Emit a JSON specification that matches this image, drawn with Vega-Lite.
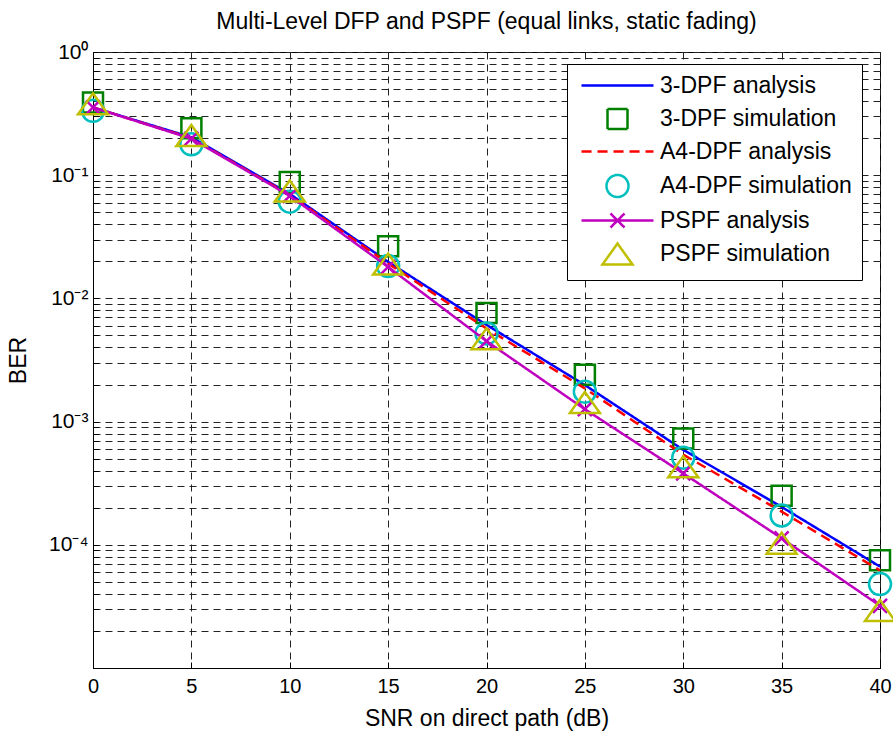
{
  "$schema": "https://vega.github.io/schema/vega-lite/v6.json",
  "width": 787,
  "height": 616,
  "autosize": "none",
  "padding": {"left": 93, "top": 52, "right": 13, "bottom": 64},
  "background": "white",
  "config": {
    "font": "Liberation Sans",
    "view": {"stroke": "black", "strokeWidth": 1}
  },
  "title": {
    "text": "Multi-Level DFP and PSPF (equal links, static fading)",
    "font": "Liberation Sans",
    "fontSize": 23,
    "fontWeight": "normal",
    "color": "black",
    "anchor": "middle",
    "offset": 7
  },
  "data": {
    "values": [
      {"snr": 0, "ber": 0.355, "series": "3-DPF analysis"},
      {"snr": 5, "ber": 0.203, "series": "3-DPF analysis"},
      {"snr": 10, "ber": 0.0705, "series": "3-DPF analysis"},
      {"snr": 15, "ber": 0.0198, "series": "3-DPF analysis"},
      {"snr": 20, "ber": 0.0061, "series": "3-DPF analysis"},
      {"snr": 25, "ber": 0.00198, "series": "3-DPF analysis"},
      {"snr": 30, "ber": 0.00059, "series": "3-DPF analysis"},
      {"snr": 35, "ber": 0.000203, "series": "3-DPF analysis"},
      {"snr": 40, "ber": 0.0000665, "series": "3-DPF analysis"},
      {"snr": 0, "ber": 0.39, "series": "3-DPF simulation"},
      {"snr": 5, "ber": 0.24, "series": "3-DPF simulation"},
      {"snr": 10, "ber": 0.088, "series": "3-DPF simulation"},
      {"snr": 15, "ber": 0.0265, "series": "3-DPF simulation"},
      {"snr": 20, "ber": 0.0076, "series": "3-DPF simulation"},
      {"snr": 25, "ber": 0.0024, "series": "3-DPF simulation"},
      {"snr": 30, "ber": 0.00073, "series": "3-DPF simulation"},
      {"snr": 35, "ber": 0.00025, "series": "3-DPF simulation"},
      {"snr": 40, "ber": 0.000075, "series": "3-DPF simulation"},
      {"snr": 0, "ber": 0.355, "series": "A4-DPF analysis"},
      {"snr": 5, "ber": 0.2, "series": "A4-DPF analysis"},
      {"snr": 10, "ber": 0.069, "series": "A4-DPF analysis"},
      {"snr": 15, "ber": 0.0192, "series": "A4-DPF analysis"},
      {"snr": 20, "ber": 0.0057, "series": "A4-DPF analysis"},
      {"snr": 25, "ber": 0.00186, "series": "A4-DPF analysis"},
      {"snr": 30, "ber": 0.00054, "series": "A4-DPF analysis"},
      {"snr": 35, "ber": 0.000186, "series": "A4-DPF analysis"},
      {"snr": 40, "ber": 0.000062, "series": "A4-DPF analysis"},
      {"snr": 0, "ber": 0.333, "series": "A4-DPF simulation"},
      {"snr": 5, "ber": 0.178, "series": "A4-DPF simulation"},
      {"snr": 10, "ber": 0.061, "series": "A4-DPF simulation"},
      {"snr": 15, "ber": 0.0183, "series": "A4-DPF simulation"},
      {"snr": 20, "ber": 0.0052, "series": "A4-DPF simulation"},
      {"snr": 25, "ber": 0.00175, "series": "A4-DPF simulation"},
      {"snr": 30, "ber": 0.00051, "series": "A4-DPF simulation"},
      {"snr": 35, "ber": 0.000173, "series": "A4-DPF simulation"},
      {"snr": 40, "ber": 0.000048, "series": "A4-DPF simulation"},
      {"snr": 0, "ber": 0.355, "series": "PSPF analysis"},
      {"snr": 5, "ber": 0.198, "series": "PSPF analysis"},
      {"snr": 10, "ber": 0.068, "series": "PSPF analysis"},
      {"snr": 15, "ber": 0.018, "series": "PSPF analysis"},
      {"snr": 20, "ber": 0.0045, "series": "PSPF analysis"},
      {"snr": 25, "ber": 0.00126, "series": "PSPF analysis"},
      {"snr": 30, "ber": 0.00038, "series": "PSPF analysis"},
      {"snr": 35, "ber": 0.000113, "series": "PSPF analysis"},
      {"snr": 40, "ber": 0.000032, "series": "PSPF analysis"},
      {"snr": 0, "ber": 0.38, "series": "PSPF simulation"},
      {"snr": 5, "ber": 0.21, "series": "PSPF simulation"},
      {"snr": 10, "ber": 0.0745, "series": "PSPF simulation"},
      {"snr": 15, "ber": 0.019, "series": "PSPF simulation"},
      {"snr": 20, "ber": 0.0047, "series": "PSPF simulation"},
      {"snr": 25, "ber": 0.00143, "series": "PSPF simulation"},
      {"snr": 30, "ber": 0.00043, "series": "PSPF simulation"},
      {"snr": 35, "ber": 0.000103, "series": "PSPF simulation"},
      {"snr": 40, "ber": 0.0000293, "series": "PSPF simulation"}
    ]
  },
  "encoding": {
    "x": {
      "field": "snr",
      "type": "quantitative",
      "scale": {"domain": [0, 40], "nice": false, "zero": false},
      "axis": {
        "values": [0, 5, 10, 15, 20, 25, 30, 35, 40],
        "title": "SNR on direct path (dB)",
        "titleFontSize": 23,
        "titleFontWeight": "normal",
        "titleColor": "black",
        "titleY": 50,
        "titleBaseline": "middle",
        "labelFontSize": 20,
        "labelColor": "black",
        "labelPadding": 14,
        "labelFlush": false,
        "labelOverlap": false,
        "ticks": true,
        "tickSize": -6,
        "tickColor": "black",
        "tickWidth": 1,
        "domainColor": "black",
        "grid": true,
        "gridColor": "#222222",
        "gridDash": [7, 5],
        "gridWidth": 1
      }
    },
    "y": {
      "field": "ber",
      "type": "quantitative",
      "scale": {"type": "log", "domain": [0.00001, 1], "nice": false},
      "axis": {
        "values": [1, 0.9, 0.8, 0.7, 0.6, 0.5, 0.4, 0.3, 0.2, 0.1, 0.09, 0.08, 0.07, 0.06, 0.05, 0.04, 0.03, 0.02, 0.01, 0.009, 0.008, 0.007, 0.006, 0.005, 0.004, 0.003, 0.002, 0.001, 0.0009, 0.0008, 0.0007, 0.0006, 0.0005, 0.0004, 0.0003, 0.0002, 0.0001, 0.00009, 0.00008, 0.00007, 0.00006, 0.00005, 0.00004, 0.00003, 0.00002, 0.00001],
        "labelExpr": "datum.value == 1 ? '10⁰' : datum.value == 0.1 ? '10⁻¹' : datum.value == 0.01 ? '10⁻²' : datum.value == 0.001 ? '10⁻³' : datum.value == 0.0001 ? '10⁻⁴' : ''",
        "title": "BER",
        "titleFontSize": 23,
        "titleFontWeight": "normal",
        "titleColor": "black",
        "titleX": -75,
        "titleY": 308,
        "titleBaseline": "middle",
        "titleAlign": "center",
        "labelFontSize": 21,
        "labelColor": "black",
        "labelPadding": 10,
        "labelFlush": false,
        "labelOverlap": false,
        "ticks": true,
        "tickSize": -5,
        "tickColor": "black",
        "tickWidth": 1,
        "domainColor": "black",
        "grid": true,
        "gridColor": "#222222",
        "gridDash": [7, 5],
        "gridWidth": 1
      }
    }
  },
  "layer": [
    {
      "transform": [{"filter": "datum.series === '3-DPF analysis'"}],
      "mark": {"type": "line", "strokeWidth": 2.5, "clip": false},
      "encoding": {
        "color": {
          "field": "series",
          "type": "nominal",
          "scale": {
            "domain": ["3-DPF analysis", "3-DPF simulation", "A4-DPF analysis", "A4-DPF simulation", "PSPF analysis", "PSPF simulation"],
            "range": ["#0000ff", "#008000", "#ff0000", "#00bfbf", "#bf00bf", "#bfbf00"]
          },
          "legend": {
            "title": null,
            "orient": "none",
            "direction": "vertical",
            "legendX": 474,
            "legendY": 12,
            "fillColor": "white",
            "strokeColor": "black",
            "padding": 10,
            "symbolSize": 256,
            "symbolStrokeWidth": 2.5,
            "symbolFillColor": "transparent",
            "symbolOffset": 29,
            "labelOffset": 31,
            "labelFontSize": 23,
            "labelFont": "Liberation Sans",
            "labelColor": "black",
            "labelLimit": 400,
            "rowPadding": 5.5
          }
        },
        "strokeDash": {
          "field": "series",
          "type": "nominal",
          "scale": {
            "domain": ["3-DPF analysis", "3-DPF simulation", "A4-DPF analysis", "A4-DPF simulation", "PSPF analysis", "PSPF simulation"],
            "range": [[1, 0], [1, 0], [10, 6], [1, 0], [1, 0], [1, 0]]
          }
        }
      }
    },
    {
      "transform": [{"filter": "datum.series === '3-DPF simulation'"}],
      "mark": {"type": "point", "filled": false, "size": 256, "strokeWidth": 2.5, "opacity": 1, "clip": false},
      "encoding": {
        "color": {"field": "series", "type": "nominal"},
        "shape": {
          "field": "series",
          "type": "nominal",
          "scale": {
            "domain": ["3-DPF analysis", "3-DPF simulation", "A4-DPF analysis", "A4-DPF simulation", "PSPF analysis", "PSPF simulation"],
            "range": [
              "M-4.5,0H4.5",
              "M-1.25,-1.25H1.25V1.25H-1.25Z",
              "M-4.5,0H4.5",
              "M1.375,0A1.375,1.375,0,1,1,-1.375,0A1.375,1.375,0,1,1,1.375,0Z",
              "M-4.5,0H4.5M-0.875,-0.875L0.875,0.875M-0.875,0.875L0.875,-0.875",
              "M0,-1.31L1.875,1.31L-1.875,1.31Z"
            ]
          }
        }
      }
    },
    {
      "transform": [{"filter": "datum.series === 'A4-DPF analysis'"}],
      "mark": {"type": "line", "strokeWidth": 2.5, "clip": false},
      "encoding": {
        "color": {"field": "series", "type": "nominal"},
        "strokeDash": {"field": "series", "type": "nominal"}
      }
    },
    {
      "transform": [{"filter": "datum.series === 'A4-DPF simulation'"}],
      "mark": {"type": "point", "filled": false, "size": 256, "strokeWidth": 2.5, "opacity": 1, "clip": false},
      "encoding": {
        "color": {"field": "series", "type": "nominal"},
        "shape": {"field": "series", "type": "nominal"}
      }
    },
    {
      "transform": [{"filter": "datum.series === 'PSPF analysis'"}],
      "mark": {"type": "line", "strokeWidth": 2.5, "clip": false},
      "encoding": {
        "color": {"field": "series", "type": "nominal"},
        "strokeDash": {"field": "series", "type": "nominal"}
      }
    },
    {
      "transform": [{"filter": "datum.series === 'PSPF analysis'"}],
      "mark": {"type": "point", "filled": false, "size": 256, "strokeWidth": 2.5, "opacity": 1, "clip": false, "color": "#bf00bf", "shape": "M-0.875,-0.875L0.875,0.875M-0.875,0.875L0.875,-0.875"},
      "encoding": {}
    },
    {
      "transform": [{"filter": "datum.series === 'PSPF simulation'"}],
      "mark": {"type": "point", "filled": false, "size": 256, "strokeWidth": 2.5, "opacity": 1, "clip": false},
      "encoding": {
        "color": {"field": "series", "type": "nominal"},
        "shape": {"field": "series", "type": "nominal"}
      }
    }
  ]
}
